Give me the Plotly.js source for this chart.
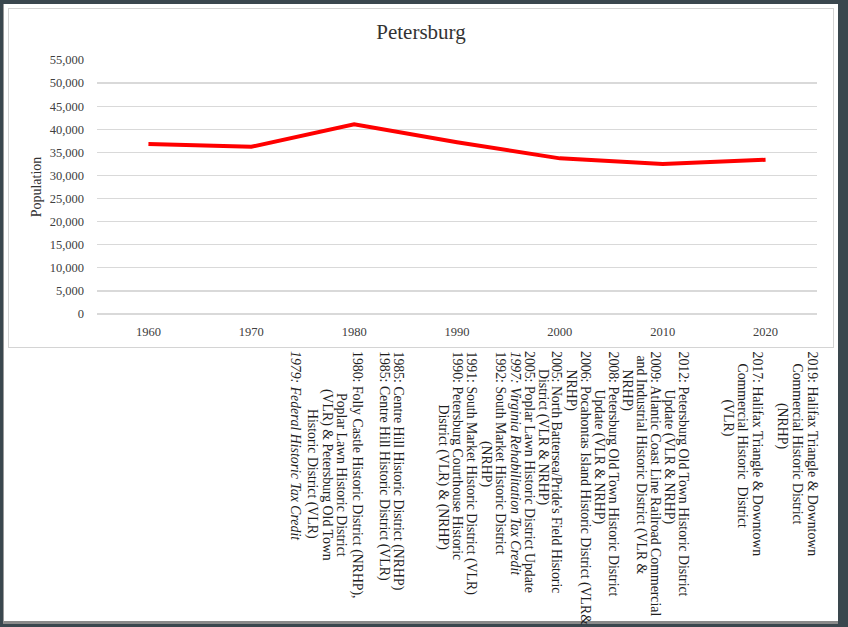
<!DOCTYPE html>
<html>
<head>
<meta charset="utf-8">
<script src="https://cdn.plot.ly/plotly-3.0.1.min.js"></script>
<style>
  html, body { margin:0; padding:0; width:848px; height:627px; overflow:hidden; background:#3a474e; }
  #paper { position:absolute; left:3px; top:4px; width:835px; height:620px; background:#ffffff; border-left:1px solid #9a9a9a; border-bottom:3px solid #8a8a8a; box-sizing:border-box; }
  #box { position:absolute; left:8px; top:8px; width:826px; height:340px; border:1px solid #d4d4d4; box-sizing:border-box; }
  #chart { position:absolute; left:0; top:0; width:848px; height:627px; }
</style>
</head>
<body>
<div id="paper"></div>
<div id="box"></div>
<div id="chart"></div>
<script>
// ---- data ----
const years = ['1960', '1970', '1980', '1990', '2000', '2010', '2020'];
const population = [36800, 36200, 41100, 37200, 33700, 32500, 33400];
const yTicks = [0, 5000, 10000, 15000, 20000, 25000, 30000, 35000, 40000, 45000, 50000, 55000];

// each note is a list of its lines
const noteLines = [
  ['1985: Centre Hill Historic District (NRHP)'],
  ['1985: Centre Hill Historic District (VLR)'],
  ['1980: Folly Castle Historic District (NRHP),', 'Poplar Lawn Historic District', '(VLR) & Petersburg Old Town', 'Historic District (VLR)'],
  ['<i>1979: Federal Historic Tax Credit</i>'],
  ['<i>1997: Virginia Rehabilitation Tax Credit</i>'],
  ['1992: South Market Historic District', '(NRHP)'],
  ['1991: South Market Historic District (VLR)'],
  ['1990: Petersburg Courthouse Historic', 'District (VLR) & (NRHP)'],
  ['2009: Atlantic Coast Line Railroad Commercial', 'and Industrial Historic District (VLR &', 'NRHP)'],
  ['2008: Petersburg Old Town Historic District', 'Update (VLR & NRHP)'],
  ['2006: Pocahontas Island Historic District (VLR&', 'NRHP)'],
  ["2005: North Battersea/Pride's Field Historic", 'District (VLR & NRHP)'],
  ['2005: Poplar Lawn Historic District Update'],
  ['2019: Halifax Triangle & Downtown', 'Commercial Historic District', '(NRHP)'],
  ['2017: Halifax Triangle & Downtown', 'Commercial Historic  District', '(VLR)'],
  ['2012: Petersburg Old Town Historic District', 'Update (VLR & NRHP)']
];

// ---- placement: column x (px) and start offset (px below the top) of each line ----
const noteColsPx = [
  [398], [384], [357, 342, 327, 312], [296],
  [515], [500, 486], [471], [457, 443],
  [655, 641, 627], [613, 599], [585, 571], [557, 543], [530],
  [812, 797, 782], [757, 742, 727], [683, 669]
];
const noteOffPx = [
  [0], [0], [0, 42, 38, 58], [0],
  [0], [0, 90], [0], [0, 53],
  [0, 4, 18], [0, 38], [0, 18], [0, 18], [0],
  [0, 12, 52], [0, 12, 48], [0, 38]
];
const noteTop = 349;

const M = {l: 97, r: 31, t: 60, b: 313};
const plotW = 848 - M.l - M.r, plotH = 627 - M.t - M.b;
const serif = 'Liberation Serif, Times New Roman, serif';
const pxX = px => (px - M.l) / plotW;
const pxY = py => ((M.t + plotH) - py) / plotH;

const annotations = [];
noteLines.forEach((lines, n) => {
  lines.forEach((t, k) => {
    annotations.push({
      text: t, xref: 'paper', yref: 'paper',
      x: pxX(noteColsPx[n][k]), y: pxY(noteTop + noteOffPx[n][k]),
      xanchor: 'center', yanchor: 'top',
      textangle: 90, showarrow: false,
      font: {family: serif, size: 13.8, color: '#1e1e1e'}
    });
  });
});

const trace = {
  x: years, y: population,
  type: 'scatter', mode: 'lines',
  line: {color: '#ff0000', width: 4},
  hoverinfo: 'skip'
};

const layout = {
  width: 848, height: 627,
  margin: M,
  paper_bgcolor: 'rgba(0,0,0,0)',
  plot_bgcolor: 'rgba(0,0,0,0)',
  showlegend: false,
  title: {text: 'Petersburg', font: {family: serif, size: 21, color: '#333333'},
          xref: 'container', x: 421/848, xanchor: 'center', yref: 'container', y: 1 - 32/627, yanchor: 'middle'},
  xaxis: {type: 'category', range: [-0.5, 6.5], showgrid: false, showline: false, zeroline: false,
          ticks: '', ticklabelstandoff: 8, tickfont: {family: serif, size: 12.5, color: '#404040'}, fixedrange: true},
  yaxis: {range: [0, 55000], tickvals: yTicks, tickformat: ',', showline: false,
          gridcolor: '#d9d9d9', gridwidth: 1.3, zeroline: true, zerolinecolor: '#d9d9d9', zerolinewidth: 1.3,
          ticks: '', ticklabelstandoff: 12, tickfont: {family: serif, size: 12.5, color: '#404040'},
          title: {text: 'Population', font: {family: serif, size: 14, color: '#333333'}, standoff: 4}, fixedrange: true},
  annotations: annotations
};

Plotly.newPlot('chart', [trace], layout, {displayModeBar: false, staticPlot: true});
</script>
</body>
</html>
